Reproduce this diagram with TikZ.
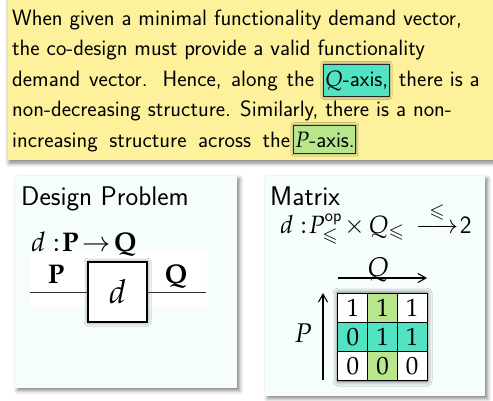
\documentclass[tikz,border=0pt]{standalone}
\usepackage{amsmath, amssymb}
\usepackage{mathpazo}
\usetikzlibrary{arrows.meta, positioning, shadows.blur}
\renewcommand{\familydefault}{\sfdefault}

\definecolor{notebg}{RGB}{254,241,156}
\definecolor{panelbg}{RGB}{245,253,253}
\definecolor{qteal}{RGB}{82,227,196}
\definecolor{pgreen}{RGB}{184,230,140}

\newcommand{\notefont}{\fontsize{22.2}{30}\selectfont}
\newcommand{\headfont}{\fontsize{27}{30}\selectfont}
\newcommand{\mathfont}{\fontsize{27}{30}\selectfont}

\tikzset{
  note/.style={inner sep=0pt, font=\notefont},
  hl/.style={draw=black!85, line width=1pt, inner xsep=1pt, inner ysep=6pt,
    font=\notefont,
    blur shadow={shadow xshift=0pt, shadow yshift=0pt, shadow blur radius=3pt, shadow opacity=70}},
  panel/.style={fill=panelbg,
    blur shadow={shadow xshift=2.5pt, shadow yshift=-2.5pt, shadow blur radius=4pt, shadow opacity=50}},
  head/.style={inner sep=0pt, anchor=base west, font=\headfont},
  sig/.style={inner sep=0pt, anchor=base west, font=\mathfont},
  wire/.style={black!80, line width=1pt},
  axis/.style={black, line width=1.1pt, -{Straight Barb[length=8pt,width=9pt]}},
  cellbox/.style={draw, line width=1pt, minimum width=29.7pt, minimum height=29.3pt,
    inner sep=0pt, font=\fontsize{25}{28}\selectfont}
}

\begin{document}
\begin{tikzpicture}[x=1pt,y=-1pt]
  \useasboundingbox (0,0) rectangle (493,400);
  % yellow note
  \fill[notebg, blur shadow={shadow xshift=1pt, shadow yshift=-3pt, shadow blur radius=4pt, shadow opacity=50}]
    (8,-10) rectangle (510,160);
  \node[note, anchor=base west] (l1) at (12,25)
    {When given a minimal functionality demand vector,};
  \node[note, anchor=base west] (l2) at (12,55.5)
    {the co-design must provide a valid functionality};
  \node[note, anchor=base west] (l3a) at (12,86)
    {\makebox[302pt][s]{demand vector. Hence, along the}};
  \node[hl, fill=qteal, right=9pt of l3a.base east, anchor=base west] (qax) {$Q$-axis,};
  \node[note, right=9pt of qax.base east, anchor=base west] (l3b) {there is a};
  \node[note, anchor=base west] (l4) at (12,116.5)
    {non-decreasing structure. Similarly, there is a non-};
  \node[note, anchor=base west] (l5a) at (12,147)
    {\makebox[278pt][s]{increasing structure across the}};
  \node[hl, fill=pgreen, right=3pt of l5a.base east, anchor=base west] (pax) {$P$-axis.};

  % design problem panel
  \fill[panel] (15,176) rectangle (237,388);
  \node[head] (dphead) at (21,205) {Design Problem};
  \fill[white] (30,252) rectangle (207,307);
  \node[sig] (dpsig) at (31,251) {$d\mskip5mu{:}\mskip1mu\mathbf{P}\mskip2mu{\to}\mskip2mu\mathbf{Q}$};
  \node[draw=black, line width=1.2pt, fill=white, minimum width=59pt, minimum height=60pt,
    font=\fontsize{33}{36}\selectfont,
    blur shadow={shadow xshift=0pt, shadow yshift=0pt, shadow blur radius=4pt, shadow opacity=60}]
    (dbox) at (117.5,292) {$d$};
  \coordinate (pin) at (30,292);
  \coordinate (qout) at (206,292);
  \draw[wire] (pin) -- (dbox.west);
  \draw[wire] (dbox.east) -- (qout);
  \node[anchor=base, inner sep=0pt, font=\mathfont] (plab) at (56,283) {$\mathbf{P}$};
  \node[anchor=base, inner sep=0pt, font=\mathfont] (qlab) at (176,283) {$\mathbf{Q}$};

  % matrix panel
  \fill[panel] (265,176) rectangle (485,396);
  \node[head] (mxhead) at (270,205) {Matrix};
  \node[sig, font=\fontsize{25}{30}\selectfont] (mxsig) at (280,233)
    {$d\mskip5mu{:}\mskip1mu P^{\mathsf{op}}_{\leqslant}\mskip-2mu\times\mskip-1mu Q_{\leqslant}\mskip3mu
      \overset{\leqslant}{\longrightarrow}\mskip-4mu\mathsf{2}$};
  \path[blur shadow={shadow xshift=0pt, shadow yshift=0pt, shadow blur radius=5pt, shadow opacity=70}]
    (338,293) rectangle (427,381);
  \foreach \c/\r/\v/\col in {0/0/1/white, 1/0/1/pgreen, 2/0/1/white,
                             0/1/0/qteal, 1/1/1/qteal, 2/1/1/qteal,
                             0/2/0/white, 1/2/0/pgreen, 2/2/0/white}
    {\node[cellbox, fill=\col] (cell-\r-\c) at (352.8+29.7*\c, 307.7+29.3*\r) {$\v$};}
  \coordinate (qtail) at (338,278);
  \coordinate (qhead) at (427,278);
  \draw[axis] (qtail) -- (qhead);
  \node[anchor=base, inner sep=0pt, font=\mathfont] (qaxl) at (378,276) {$Q$};
  \coordinate (ptail) at (323,380);
  \coordinate (phead) at (323,293);
  \draw[axis] (ptail) -- (phead);
  \node[inner sep=0pt, font=\mathfont] (paxl) at (303,333) {$P$};
\end{tikzpicture}
\end{document}
